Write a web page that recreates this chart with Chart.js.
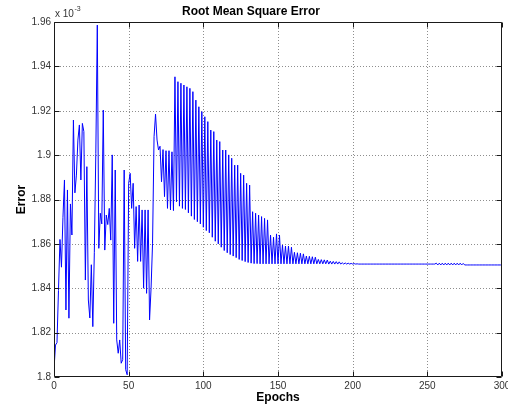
<!DOCTYPE html>
<html>
<head>
<meta charset="utf-8">
<script src="https://cdn.jsdelivr.net/npm/chart.js@4.4.0/dist/chart.umd.min.js"></script>
<style>
  html, body { margin: 0; padding: 0; background: #fff; }
  canvas { display: block; }
</style>
</head>
<body>
<canvas id="rmseChart" width="508" height="406"></canvas>
<script>
// Training error per epoch, in units of 1e-3
const rmse = [
  /*   0 */ 1.8035, 1.8144, 1.8155, 1.8390, 1.8620, 1.8495, 1.8720, 1.8888, 1.8302, 1.8843,
  /*  10 */ 1.8265, 1.8780, 1.8640, 1.9158, 1.8830, 1.8910, 1.9068, 1.9136, 1.8888, 1.9143,
  /*  20 */ 1.9106, 1.8437, 1.8948, 1.8347, 1.8266, 1.8506, 1.8227, 1.8560, 1.9008, 1.9586,
  /*  30 */ 1.8580, 1.8738, 1.8690, 1.9203, 1.8572, 1.8730, 1.8687, 1.8760, 1.8617, 1.9001,
  /*  40 */ 1.8242, 1.8933, 1.8167, 1.8107, 1.8167, 1.8062, 1.8078, 1.8933, 1.8033, 1.8010,
  /*  50 */ 1.8873, 1.8918, 1.8760, 1.8873, 1.8580, 1.8768, 1.8521, 1.8775, 1.8521, 1.8753,
  /*  60 */ 1.8400, 1.8753, 1.8377, 1.8753, 1.8257, 1.8400, 1.8603, 1.9083, 1.9185, 1.9068,
  /*  70 */ 1.9023, 1.9040, 1.8880, 1.9025, 1.8813, 1.9020, 1.8760, 1.9020, 1.8753, 1.9015,
  /*  80 */ 1.8750, 1.9353, 1.8790, 1.9331, 1.8770, 1.9324, 1.8760, 1.9316, 1.8755, 1.9308,
  /*  90 */ 1.8740, 1.9301, 1.8725, 1.9286, 1.8710, 1.9248, 1.8700, 1.9218, 1.8690, 1.9196,
  /* 100 */ 1.8675, 1.9173, 1.8660, 1.9151, 1.8650, 1.9113, 1.8630, 1.9106, 1.8612, 1.9068,
  /* 110 */ 1.8600, 1.9061, 1.8585, 1.9023, 1.8570, 1.9023, 1.8560, 1.9001, 1.8552, 1.8986,
  /* 120 */ 1.8545, 1.8955, 1.8538, 1.8955, 1.8530, 1.8918, 1.8525, 1.8910, 1.8520, 1.8873,
  /* 130 */ 1.8516, 1.8865, 1.8513, 1.8745, 1.8511, 1.8738, 1.8511, 1.8730, 1.8510, 1.8723,
  /* 140 */ 1.8510, 1.8715, 1.8510, 1.8708, 1.8510, 1.8640, 1.8510, 1.8630, 1.8510, 1.8645,
  /* 150 */ 1.8510, 1.8640, 1.8510, 1.8595, 1.8510, 1.8590, 1.8510, 1.8590, 1.8510, 1.8585,
  /* 160 */ 1.8510, 1.8562, 1.8510, 1.8560, 1.8510, 1.8558, 1.8510, 1.8555, 1.8510, 1.8545,
  /* 170 */ 1.8510, 1.8544, 1.8510, 1.8542, 1.8510, 1.8540, 1.8510, 1.8530, 1.8510, 1.8529,
  /* 180 */ 1.8510, 1.8528, 1.8510, 1.8527, 1.8509, 1.8522, 1.8509, 1.8521, 1.8509, 1.8520,
  /* 190 */ 1.8509, 1.8519, 1.8509, 1.8515, 1.8509, 1.8514, 1.8509, 1.8513, 1.8509, 1.8512,
  /* 200 */ 1.8509, 1.8511, 1.8509, 1.8510, 1.8509, 1.8509, 1.8509, 1.8509, 1.8509, 1.8509,
  /* 210 */ 1.8509, 1.8509, 1.8509, 1.8509, 1.8509, 1.8509, 1.8509, 1.8509, 1.8509, 1.8509,
  /* 220 */ 1.8509, 1.8509, 1.8509, 1.8509, 1.8509, 1.8509, 1.8509, 1.8509, 1.8509, 1.8509,
  /* 230 */ 1.8509, 1.8509, 1.8509, 1.8509, 1.8509, 1.8509, 1.8509, 1.8509, 1.8509, 1.8509,
  /* 240 */ 1.8509, 1.8509, 1.8509, 1.8509, 1.8509, 1.8509, 1.8509, 1.8509, 1.8509, 1.8509,
  /* 250 */ 1.8509, 1.8509, 1.8509, 1.8509, 1.8509, 1.8509, 1.8513, 1.8505, 1.8513, 1.8505,
  /* 260 */ 1.8513, 1.8505, 1.8513, 1.8505, 1.8513, 1.8505, 1.8513, 1.8505, 1.8513, 1.8505,
  /* 270 */ 1.8513, 1.8505, 1.8513, 1.8505, 1.8512, 1.8505, 1.8505, 1.8505, 1.8505, 1.8505,
  /* 280 */ 1.8505, 1.8505, 1.8505, 1.8505, 1.8505, 1.8505, 1.8505, 1.8505, 1.8505, 1.8505,
  /* 290 */ 1.8505, 1.8505, 1.8505, 1.8505, 1.8505, 1.8505, 1.8505, 1.8505, 1.8505, 1.8505,
  /* 300 */ 1.8505
];

const xTickValues = [0, 50, 100, 150, 200, 250, 300];
const xTickLabels = ['0', '50', '100', '150', '200', '250', '300'];
const yTickValues = [1.8, 1.82, 1.84, 1.86, 1.88, 1.9, 1.92, 1.94, 1.96];
const yTickLabels = ['1.8', '1.82', '1.84', '1.86', '1.88', '1.9', '1.92', '1.94', '1.96'];
const yExponent = '-3';

const FONT = '"Liberation Sans", Arial, sans-serif';

// Dotted grid under the trace; boxed frame, inward tick marks and the axis multiplier on top
const axesBox = {
  id: 'axesBox',
  beforeDatasetsDraw(chart) {
    const { ctx, chartArea: a, scales: { x, y } } = chart;
    ctx.save();
    ctx.strokeStyle = '#8e8e8e';
    ctx.lineWidth = 1;
    ctx.setLineDash([1, 2]);
    ctx.beginPath();
    x.ticks.forEach(t => {
      const p = Math.round(x.getPixelForValue(t.value)) + 0.5;
      if (p > a.left + 2 && p < a.right - 2) { ctx.moveTo(p, a.top); ctx.lineTo(p, a.bottom); }
    });
    y.ticks.forEach(t => {
      const p = Math.round(y.getPixelForValue(t.value)) + 0.5;
      if (p > a.top + 2 && p < a.bottom - 2) { ctx.moveTo(a.left, p); ctx.lineTo(a.right, p); }
    });
    ctx.stroke();
    ctx.restore();
  },
  afterDatasetsDraw(chart) {
    const { ctx, chartArea: a, scales: { x, y } } = chart;
    const L = Math.round(a.left) + 0.5, R = Math.round(a.right) - 0.5;
    const T = Math.round(a.top) + 0.5, B = Math.round(a.bottom) - 0.5;
    const tick = 5;
    ctx.save();
    ctx.strokeStyle = '#1a1a1a';
    ctx.lineWidth = 1;
    ctx.setLineDash([]);
    ctx.beginPath();
    ctx.rect(L, T, R - L, B - T);
    x.ticks.forEach(t => {
      const p = Math.round(x.getPixelForValue(t.value)) + 0.5;
      ctx.moveTo(p, B); ctx.lineTo(p, B - tick);
      ctx.moveTo(p, T); ctx.lineTo(p, T + tick);
    });
    y.ticks.forEach(t => {
      const p = Math.round(y.getPixelForValue(t.value)) + 0.5;
      ctx.moveTo(L, p); ctx.lineTo(L + tick, p);
      ctx.moveTo(R, p); ctx.lineTo(R - tick, p);
    });
    ctx.stroke();

    // "x 10^-3" multiplier above the y axis
    ctx.fillStyle = '#333';
    ctx.textBaseline = 'alphabetic';
    ctx.textAlign = 'left';
    ctx.font = '10px ' + FONT;
    const base = 'x 10';
    ctx.fillText(base, a.left + 1, a.top - 5);
    const w = ctx.measureText(base).width;
    ctx.font = '7px ' + FONT;
    ctx.fillText(yExponent, a.left + 1 + w + 0.5, a.top - 11);
    ctx.restore();
  }
};

new Chart(document.getElementById('rmseChart').getContext('2d'), {
  type: 'line',
  data: {
    datasets: [{
      data: rmse.map((v, i) => ({ x: i, y: v })),
      borderColor: '#0000ff',
      borderWidth: 1,
      pointRadius: 0,
      tension: 0,
      fill: false
    }]
  },
  options: {
    responsive: false,
    animation: false,
    events: [],
    layout: { padding: { left: 0, right: 6, top: 0, bottom: 0 } },
    plugins: {
      legend: { display: false },
      tooltip: { enabled: false },
      title: {
        display: true,
        text: 'Root Mean Square Error',
        color: '#000',
        font: { family: FONT, size: 12, weight: 'bold' },
        padding: { top: 4, bottom: 3.6 }
      }
    },
    scales: {
      x: {
        type: 'linear',
        min: 0,
        max: 300,
        grid: { display: false, drawTicks: false },
        border: { display: false },
        afterBuildTicks: s => { s.ticks = xTickValues.map(v => ({ value: v })); },
        ticks: {
          padding: 3,
          color: '#333',
          font: { family: FONT, size: 10 },
          maxRotation: 0,
          autoSkip: false,
          callback: (v, i) => xTickLabels[i]
        },
        title: {
          display: true,
          text: 'Epochs',
          color: '#000',
          font: { family: FONT, size: 12, weight: 'bold' },
          padding: { top: 0, bottom: 0.8 }
        },
        afterFit: s => { s.height = 29; s.paddingLeft = 0; s.paddingRight = 0; }
      },
      y: {
        type: 'linear',
        min: 1.8,
        max: 1.96,
        grid: { display: false, drawTicks: false },
        border: { display: false },
        afterBuildTicks: s => { s.ticks = yTickValues.map(v => ({ value: v })); },
        ticks: {
          padding: 3,
          color: '#333',
          font: { family: FONT, size: 10 },
          autoSkip: false,
          callback: (v, i) => yTickLabels[i]
        },
        title: {
          display: true,
          text: 'Error',
          color: '#000',
          font: { family: FONT, size: 12, weight: 'bold' },
          padding: { top: 14, bottom: 0 }
        },
        afterFit: s => { s.width = 54; s.paddingTop = 0; s.paddingBottom = 0; }
      }
    }
  },
  plugins: [axesBox]
});
</script>
</body>
</html>
